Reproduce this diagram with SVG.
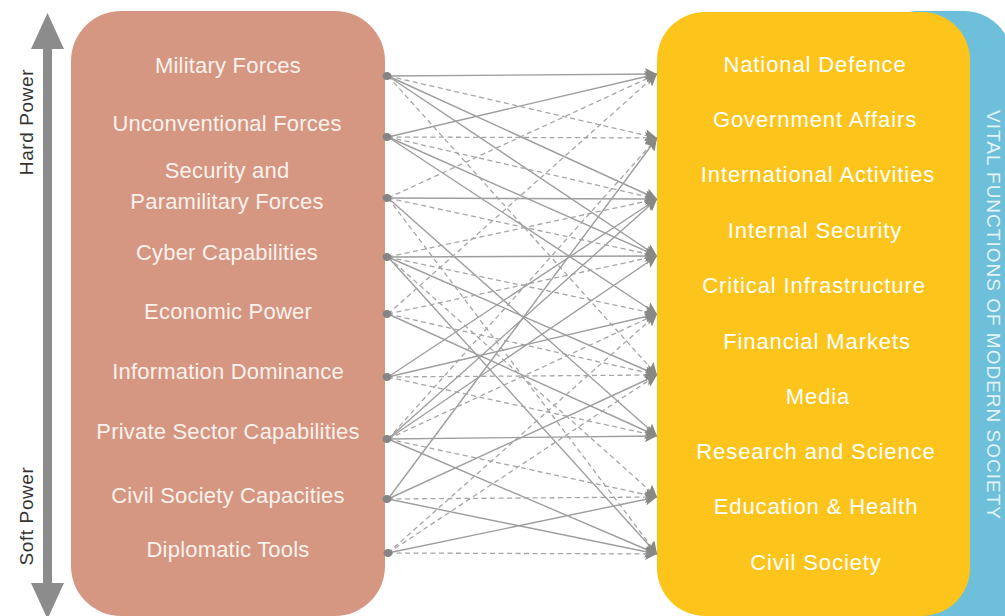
<svg xmlns="http://www.w3.org/2000/svg" width="1005" height="616" viewBox="0 0 1005 616">
<style>
.lt{font-family:"Liberation Sans",Arial,sans-serif;font-size:22px;fill:#FBF1EC;text-anchor:middle;letter-spacing:0.2px}
.rt{font-family:"Liberation Sans",Arial,sans-serif;font-size:22px;fill:#FFFFFF;text-anchor:middle;letter-spacing:0.9px}
.ax{font-family:"Liberation Sans",Arial,sans-serif;font-size:19px;fill:#333333;text-anchor:middle;letter-spacing:0.6px}
.vt{font-family:"Liberation Sans",Arial,sans-serif;font-size:19px;fill:#E2F3F9;text-anchor:middle;letter-spacing:1px}
.s{stroke:#9E9E9E;stroke-width:1.4;fill:none;marker-end:url(#ah)}
.d{stroke:#A6A6A6;stroke-width:1.3;fill:none;stroke-dasharray:5 3.5;marker-end:url(#ah)}
.dot{fill:#858585}
</style>
<defs>
<marker id="ah" viewBox="0 0 10 10" refX="10" refY="5" markerWidth="13" markerHeight="12" markerUnits="userSpaceOnUse" orient="auto">
<path d="M0,0 L10,5 L0,10 L2,5 z" fill="#888888"/>
</marker>
</defs>
<rect width="1005" height="616" fill="#FFFFFF"/>

<g id="power-axis">
<rect x="43" y="48" width="9" height="536" fill="#8C8C8C"/>
<polygon points="31,49 47.5,13 64,49" fill="#8C8C8C"/>
<polygon points="31,583 47.5,619 64,583" fill="#8C8C8C"/>
<text class="ax" transform="translate(33,122) rotate(-90)">Hard Power</text>
<text class="ax" transform="translate(33,516) rotate(-90)">Soft Power</text>
</g>

<g id="vital-functions-band">
<rect x="870" y="11" width="142" height="640" rx="48" fill="#6DBFDA"/>
<text class="vt" transform="translate(987,315) rotate(90)">VITAL FUNCTIONS OF MODERN SOCIETY</text>
</g>

<g id="capabilities-panel">
<rect x="71" y="11" width="314" height="605" rx="50" fill="#D59782"/>
</g>
<g id="functions-panel">
<rect x="657" y="12" width="313" height="604" rx="48" fill="#FDC51B"/>
</g>

<g id="connectors">
<line class="s" x1="388" y1="76" x2="657" y2="74"/>
<line class="d" x1="388" y1="76" x2="657" y2="138"/>
<line class="s" x1="388" y1="76" x2="657" y2="199"/>
<line class="s" x1="388" y1="76" x2="657" y2="256"/>
<line class="d" x1="388" y1="76" x2="657" y2="375"/>

<line class="s" x1="388" y1="137" x2="657" y2="74"/>
<line class="d" x1="388" y1="137" x2="657" y2="138"/>
<line class="d" x1="388" y1="137" x2="657" y2="199"/>
<line class="s" x1="388" y1="137" x2="657" y2="256"/>
<line class="s" x1="388" y1="137" x2="657" y2="314"/>

<line class="d" x1="388" y1="198" x2="657" y2="74"/>
<line class="s" x1="388" y1="198" x2="657" y2="199"/>
<line class="d" x1="388" y1="198" x2="657" y2="256"/>
<line class="s" x1="388" y1="198" x2="657" y2="436"/>
<line class="d" x1="388" y1="198" x2="657" y2="554"/>

<line class="d" x1="388" y1="257" x2="657" y2="199"/>
<line class="s" x1="388" y1="257" x2="657" y2="256"/>
<line class="d" x1="388" y1="257" x2="657" y2="314"/>
<line class="s" x1="388" y1="257" x2="657" y2="375"/>
<line class="d" x1="388" y1="257" x2="657" y2="497"/>
<line class="s" x1="388" y1="257" x2="657" y2="554"/>

<line class="d" x1="388" y1="314" x2="657" y2="74"/>
<line class="d" x1="388" y1="314" x2="657" y2="256"/>
<line class="d" x1="388" y1="314" x2="657" y2="375"/>
<line class="s" x1="388" y1="314" x2="657" y2="436"/>

<line class="s" x1="388" y1="377" x2="657" y2="199"/>
<line class="s" x1="388" y1="377" x2="657" y2="314"/>
<line class="d" x1="388" y1="377" x2="657" y2="375"/>
<line class="d" x1="388" y1="377" x2="657" y2="436"/>

<line class="d" x1="388" y1="439" x2="657" y2="138"/>
<line class="s" x1="388" y1="439" x2="657" y2="199"/>
<line class="s" x1="388" y1="439" x2="657" y2="256"/>
<line class="d" x1="388" y1="439" x2="657" y2="314"/>
<line class="s" x1="388" y1="439" x2="657" y2="436"/>
<line class="d" x1="388" y1="439" x2="657" y2="497"/>
<line class="s" x1="388" y1="439" x2="657" y2="554"/>

<line class="s" x1="388" y1="499" x2="657" y2="138"/>
<line class="s" x1="388" y1="499" x2="657" y2="375"/>
<line class="d" x1="388" y1="499" x2="657" y2="497"/>
<line class="s" x1="388" y1="499" x2="657" y2="554"/>

<line class="d" x1="388" y1="553" x2="657" y2="314"/>
<line class="d" x1="388" y1="553" x2="657" y2="375"/>
<line class="s" x1="388" y1="553" x2="657" y2="497"/>
<line class="d" x1="388" y1="553" x2="657" y2="554"/>

<ellipse class="dot" cx="387" cy="76" rx="4.5" ry="4"/>
<ellipse class="dot" cx="387" cy="137" rx="4.5" ry="4"/>
<ellipse class="dot" cx="387" cy="198" rx="4.5" ry="4"/>
<ellipse class="dot" cx="387" cy="257" rx="4.5" ry="4"/>
<ellipse class="dot" cx="387" cy="314" rx="4.5" ry="4"/>
<ellipse class="dot" cx="387" cy="377" rx="4.5" ry="4"/>
<ellipse class="dot" cx="387" cy="439" rx="4.5" ry="4"/>
<ellipse class="dot" cx="387" cy="499" rx="4.5" ry="4"/>
<ellipse class="dot" cx="388" cy="553" rx="4.5" ry="4"/>
</g>

<g id="military-forces"><text class="lt" x="228" y="73">Military Forces</text></g>
<g id="unconventional-forces"><text class="lt" x="227" y="131">Unconventional Forces</text></g>
<g id="security-paramilitary-forces"><text class="lt" x="227" y="178">Security and</text><text class="lt" x="227" y="209">Paramilitary Forces</text></g>
<g id="cyber-capabilities"><text class="lt" x="227" y="260">Cyber Capabilities</text></g>
<g id="economic-power"><text class="lt" x="228" y="319">Economic Power</text></g>
<g id="information-dominance"><text class="lt" x="228" y="379">Information Dominance</text></g>
<g id="private-sector-capabilities"><text class="lt" x="228" y="439">Private Sector Capabilities</text></g>
<g id="civil-society-capacities"><text class="lt" x="228" y="503">Civil Society Capacities</text></g>
<g id="diplomatic-tools"><text class="lt" x="228" y="557">Diplomatic Tools</text></g>

<g id="national-defence"><text class="rt" x="815" y="72">National Defence</text></g>
<g id="government-affairs"><text class="rt" x="815" y="127">Government Affairs</text></g>
<g id="international-activities"><text class="rt" x="818" y="182">International Activities</text></g>
<g id="internal-security"><text class="rt" x="815" y="238">Internal Security</text></g>
<g id="critical-infrastructure"><text class="rt" x="814" y="293">Critical Infrastructure</text></g>
<g id="financial-markets"><text class="rt" x="817" y="349">Financial Markets</text></g>
<g id="media"><text class="rt" x="818" y="404">Media</text></g>
<g id="research-and-science"><text class="rt" x="816" y="459">Research and Science</text></g>
<g id="education-health"><text class="rt" x="816" y="514">Education &amp; Health</text></g>
<g id="civil-society"><text class="rt" x="816" y="570">Civil Society</text></g>
</svg>
